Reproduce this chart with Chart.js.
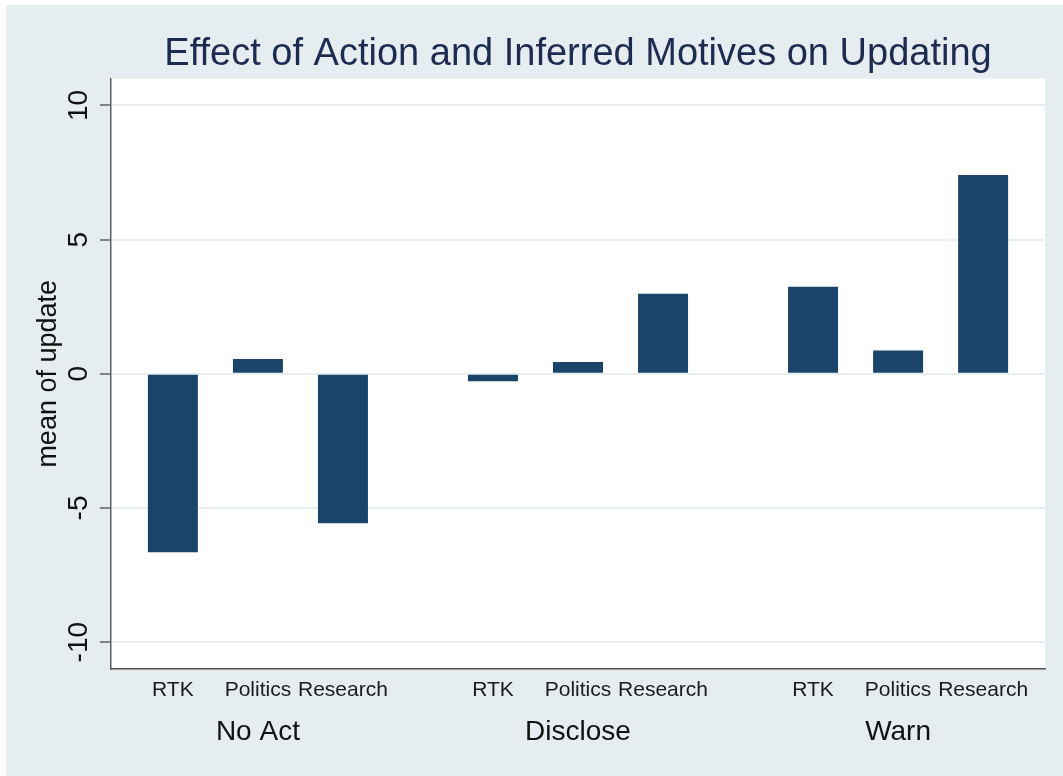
<!DOCTYPE html>
<html>
<head>
<meta charset="utf-8">
<script src="https://cdn.jsdelivr.net/npm/chart.js@4.4.1/dist/chart.umd.min.js"></script>
<style>
  html, body { margin: 0; padding: 0; background: #ffffff; }
  #wrap { position: absolute; left: 6px; top: 5px; width: 1057px; height: 771px; background: #e5edf1; }
</style>
</head>
<body>
<div id="wrap"><canvas id="canvas"></canvas></div>
<script>

let groups = ['No Act', 'Disclose', 'Warn'];
let motives = ['RTK', 'Politics', 'Research'];

// mean of update, one array per motive, in group order
let rtk = [-6.65, -0.28, 3.24];
let politics = [0.55, 0.44, 0.87];
let research = [-5.57, 2.98, 7.41];

let yTicks = [-10, -5, 0, 5, 10];

let navy = '#1b446a';
let font = 'Liberation Sans, Arial, Helvetica, sans-serif';

Chart.defaults.font.family = font;

let series = [rtk, politics, research];
let datasets = [];
for(let k = 0;k<motives.length;k++){
    let points = [];
    for(let i = 0;i<groups.length;i++){
        points.push({x: i, y: series[k][i]});
    }
    datasets.push({
        label : motives[k],
        data : points,
        backgroundColor : navy,
        borderWidth : 0
    });
}

// white plot region behind the bars
let plotBackground = {
    id: 'plotBackground',
    beforeDraw: function(chart){
        let a = chart.chartArea;
        let ctx = chart.ctx;
        ctx.save();
        ctx.fillStyle = '#ffffff';
        ctx.fillRect(a.left, a.top, a.right - a.left, a.bottom - a.top);
        ctx.restore();
    }
};

// motive name under every bar
let barLabels = {
    id: 'barLabels',
    afterDraw: function(chart){
        let ctx = chart.ctx;
        ctx.save();
        ctx.font = '21px ' + font;
        ctx.fillStyle = '#1a1a1a';
        ctx.textAlign = 'center';
        ctx.textBaseline = 'middle';
        chart.data.datasets.forEach(function(ds, k){
            let meta = chart.getDatasetMeta(k);
            meta.data.forEach(function(bar){
                ctx.fillText(ds.label, bar.x, chart.chartArea.bottom + 21.5);
            });
        });
        ctx.restore();
    }
};

let options = {
    type: 'bar',
    data: { datasets: datasets },
    options: {
        responsive: true,
        maintainAspectRatio: false,
        animation: false,
        categoryPercentage: 0.797,
        barPercentage: 0.588,
        layout: { padding: { left: 0, right: 18, top: 0, bottom: 0 } },
        plugins: {
            legend: { display: false },
            tooltip: { enabled: false },
            title: {
                display: true,
                text: 'Effect of Action and Inferred Motives on Updating',
                fullSize: false,
                color: '#1e2b50',
                font: { size: 38, weight: 'normal' },
                padding: { top: 27, bottom: 1 }
            }
        },
        scales: {
            x: {
                type: 'linear',
                offset: false,
                min: -0.459,
                max: 2.459,
                afterBuildTicks: function(scale){
                    scale.ticks = groups.map(function(g, i){ return {value: i}; });
                },
                afterFit: function(scale){ scale.height = 107; },
                grid: { display: false, drawTicks: false, offset: false },
                border: { color: '#4f4f4f', width: 1.5 },
                ticks: {
                    callback: function(value){ return groups[Math.round(value)]; },
                    color: '#111111',
                    font: { size: 28 },
                    padding: 46,
                    maxRotation: 0,
                    autoSkip: false
                }
            },
            y: {
                min: -11,
                max: 11,
                afterBuildTicks: function(scale){
                    scale.ticks = yTicks.map(function(v){ return {value: v}; });
                },
                afterFit: function(scale){ scale.width = 105; },
                grid: {
                    color: '#e8eff2',
                    lineWidth: 2,
                    tickColor: '#5f5f5f',
                    tickLength: 11,
                    tickWidth: 1.5
                },
                border: { color: '#5f5f5f', width: 1.5 },
                ticks: {
                    callback: function(value){ return String(value); },
                    color: '#111111',
                    font: { size: 28 },
                    minRotation: 90,
                    maxRotation: 90,
                    crossAlign: 'center',
                    padding: 0
                },
                title: {
                    display: true,
                    text: 'mean of update',
                    color: '#111111',
                    font: { size: 27 },
                    padding: { top: 26.4, bottom: 0 }
                }
            }
        }
    },
    plugins: [plotBackground, barLabels]
};

let chart = new Chart(document.getElementById('canvas'), options);

</script>
</body>
</html>
